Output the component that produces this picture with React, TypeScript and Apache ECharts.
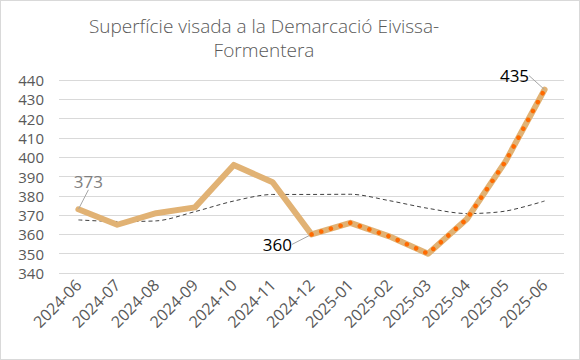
import React, { useEffect, useRef } from "react";
import * as echarts from "echarts";

const categories = [
  "2024-06", "2024-07", "2024-08", "2024-09", "2024-10", "2024-11", "2024-12",
  "2025-01", "2025-02", "2025-03", "2025-04", "2025-05", "2025-06",
];
const mainValues = [373, 365, 371, 374, 396, 387, 360, 366, 359, 350, 368, 398, 435];
const highlightValues = [null, null, null, null, null, null, 360, 366, 359, 350, 368, 398, 435];
const trendValues = [367.5, 366.7, 367, 371.8, 377.3, 380.7, 380.7, 380.8, 377.5, 373.5, 370.8, 372.1, 377.3];
const titleText = "Superfície visada a la Demarcació Eivissa-\nFormentera";

export default function App() {
  const ref = useRef<HTMLDivElement>(null);
  useEffect(() => {
    document.body.style.margin = "0";
    const chart = echarts.init(ref.current!, null, { renderer: "svg" });
    const font = "Open Sans";
    const labelled: Record<number, any> = {
      0: { color: "#7f7f7f", position: "top", dx: 10, dy: -14 },
      6: { color: "#000000", position: "left", dx: -14, dy: 10 },
      12: { color: "#000000", position: "left", dx: -10, dy: -14 },
    };
    chart.setOption({
      animation: false,
      title: {
        text: titleText,
        left: 258,
        textAlign: "center",
        top: 8,
        textStyle: {
          fontFamily: font,
          fontSize: 19,
          fontWeight: 300,
          color: "#595959",
          lineHeight: 24,
        },
      },
      grid: { left: 58, right: 15, top: 79, bottom: 86, containLabel: false },
      xAxis: {
        type: "category",
        data: categories,
        boundaryGap: true,
        axisLine: { show: false },
        axisTick: { show: false },
        axisLabel: {
          rotate: 45,
          interval: 0,
          fontFamily: font,
          fontSize: 16,
          color: "#595959",
          margin: 9,
        },
      },
      yAxis: {
        type: "value",
        min: 340,
        max: 440,
        interval: 10,
        axisLine: { show: false },
        axisTick: { show: false },
        splitLine: { lineStyle: { color: "#d9d9d9", width: 1 } },
        axisLabel: {
          fontFamily: font,
          fontSize: 15,
          lineHeight: 15,
          color: "#595959",
          margin: 15,
        },
      },
      series: [
        {
          type: "line",
          data: trendValues,
          smooth: 0.3,
          symbol: "none",
          lineStyle: { color: "#404040", width: 1, type: [4, 3] },
          z: 1,
        },
        {
          type: "line",
          data: mainValues.map((v, i) =>
            labelled[i]
              ? {
                  value: v,
                  label: {
                    show: true,
                    position: labelled[i].position,
                    color: labelled[i].color,
                    fontFamily: font,
                    fontSize: 17,
                  },
                  labelLine: { show: true, lineStyle: { color: "#a6a6a6", width: 1 } },
                }
              : v
          ),
          symbol: "circle",
          symbolSize: 1,
          showSymbol: true,
          itemStyle: { color: "rgba(0,0,0,0)" },
          lineStyle: { color: "#E1B274", width: 6, cap: "round", join: "round" },
          labelLine: { show: true, lineStyle: { color: "#a6a6a6", width: 1 } },
          labelLayout: (p: any) => {
            const l = labelled[p.dataIndex];
            return l ? { dx: l.dx, dy: l.dy } : {};
          },
          z: 2,
        },
        {
          type: "line",
          data: highlightValues,
          symbol: "none",
          lineStyle: { color: "#FF6A00", width: 4.5, type: [0.1, 10], cap: "round" },
          z: 3,
        },
      ],
    });
    return () => chart.dispose();
  }, []);
  return (
    <div
      ref={ref}
      style={{ width: 580, height: 360, border: "1px solid #d9d9d9", boxSizing: "border-box" }}
    />
  );
}
